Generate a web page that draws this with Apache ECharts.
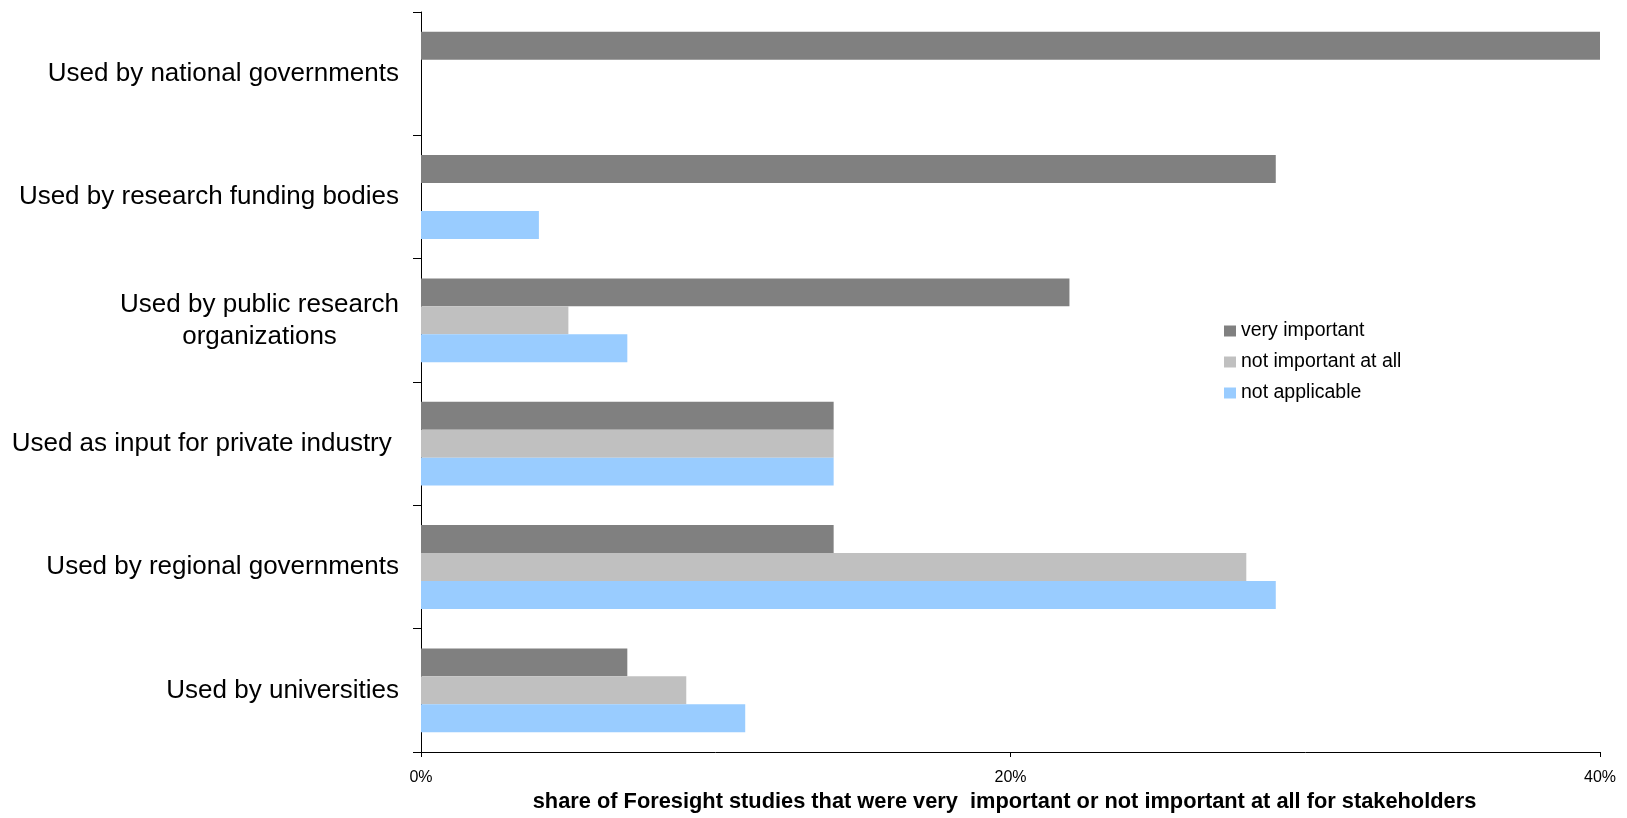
<!DOCTYPE html>
<html>
<head>
<meta charset="utf-8">
<title>Use of Foresight studies by stakeholders</title>
<script src="https://cdn.jsdelivr.net/npm/echarts@6/dist/echarts.min.js"></script>
<style>
  html, body { margin: 0; padding: 0; background: #ffffff; }
  #chart { width: 1627px; height: 818px; }
</style>
</head>
<body>
<div id="chart"></div>
<script>
// Stakeholder categories, listed top to bottom
const categories = [
  'Used by national governments',
  'Used by research funding bodies',
  'Used by public research\norganizations',
  'Used as input for private industry ',
  'Used by regional governments',
  'Used by universities'
];

// Share of Foresight studies (%) per category
const veryImportant     = [40, 29, 22, 14, 14, 7];
const notImportantAtAll = [0, 0, 5, 14, 28, 9];
const notApplicable     = [0, 4, 7, 14, 29, 11];

const seriesNames = ['very important', 'not important at all', 'not applicable'];
const xTicks = [0, 20, 40];
const axisTitle = 'share of Foresight studies that were very  important or not important at all for stakeholders';

const FONT = '"Liberation Sans", Arial, Helvetica, sans-serif';
const chart = echarts.init(document.getElementById('chart'), null, { renderer: 'canvas' });

function barSeries(name, data, color) {
  return {
    name: name,
    type: 'bar',
    data: data,
    barGap: '0%',
    barCategoryGap: '32%',
    itemStyle: { color: color },
    silent: true
  };
}

chart.setOption({
  backgroundColor: '#ffffff',
  animation: false,
  textStyle: { fontFamily: FONT },
  grid: { left: 421, right: 27, top: 12, bottom: 64, containLabel: false },
  legend: {
    orient: 'vertical',
    left: 1204,
    top: 312,
    padding: [9, 10, 5, 20],
    backgroundColor: '#ffffff',
    itemWidth: 12,
    itemHeight: 11,
    itemGap: 11,
    icon: 'rect',
    selectedMode: false,
    textStyle: { fontFamily: FONT, fontSize: 19.5, lineHeight: 20, color: '#000000' },
    data: seriesNames
  },
  xAxis: {
    type: 'value',
    min: xTicks[0],
    max: xTicks[xTicks.length - 1],
    interval: xTicks[1] - xTicks[0],
    splitLine: { show: false },
    axisLine: { show: true, lineStyle: { color: '#000000', width: 1 } },
    axisTick: { show: true, inside: false, length: 5, lineStyle: { color: '#000000', width: 1 } },
    axisLabel: {
      fontFamily: FONT, fontSize: 16, color: '#000000', margin: 18,
      formatter: v => v + '%'
    },
    name: axisTitle,
    nameLocation: 'middle',
    nameGap: 39,
    nameTextStyle: {
      fontFamily: FONT, fontSize: 21.8, fontWeight: 'bold', color: '#000000',
      padding: [0, 12, 0, 0]
    }
  },
  yAxis: {
    type: 'category',
    inverse: true,
    data: categories,
    axisLine: { show: true, lineStyle: { color: '#000000', width: 1 } },
    axisTick: { show: true, length: 8, lineStyle: { color: '#000000', width: 1 } },
    axisLabel: {
      interval: 0,
      margin: 22,
      fontFamily: FONT,
      fontSize: 26,
      lineHeight: 32,
      color: '#000000',
      formatter: function (value) {
        if (value.indexOf('\n') < 0) return value;
        return value.split('\n').map(l => '{c|' + l + '}').join('\n');
      },
      rich: {
        c: { align: 'center', fontFamily: FONT, fontSize: 26, lineHeight: 32, color: '#000000' }
      }
    }
  },
  series: [
    barSeries(seriesNames[0], veryImportant, '#808080'),
    barSeries(seriesNames[1], notImportantAtAll, '#c0c0c0'),
    barSeries(seriesNames[2], notApplicable, '#99ccff')
  ]
});
</script>
</body>
</html>
